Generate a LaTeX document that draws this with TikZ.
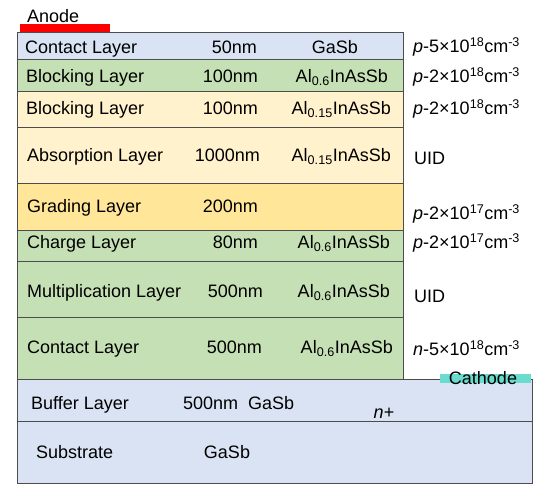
\documentclass[tikz,border=0pt]{standalone}
\usepackage{fontspec}
\setmainfont{Liberation Sans}

\definecolor{contactblue}{HTML}{DAE3F3}
\definecolor{layergreen}{HTML}{C5E0B4}
\definecolor{layercream}{HTML}{FFF2CC}
\definecolor{layergold}{HTML}{FFE699}
\definecolor{anodered}{HTML}{FF0000}
\definecolor{cathodeteal}{HTML}{6ADBCF}

\newcommand{\doping}[3]{\textit{#1}-#2×10\textsuperscript{#3}cm\textsuperscript{-3}}
\newcommand{\alloy}[1]{Al\textsubscript{#1}InAsSb}

\begin{document}
\begin{tikzpicture}[x=1pt, y=-1pt, font=\fontsize{18}{20}\selectfont,
  every node/.style={inner sep=0pt, text height=13pt, text depth=0pt},
  layer/.style={draw=black!70, line width=1pt},
  lbl/.style={anchor=west},
  thk/.style={anchor=east},
  mat/.style={anchor=east}]
\useasboundingbox (0,0) rectangle (550,498);

% Substrate and buffer
\draw[layer, fill=contactblue] (17,421) rectangle (532,483);
\draw[layer, fill=contactblue] (17,379) rectangle (532,421);
\node[lbl] (sub) at (36,452) {Substrate};
\node (subgasb) at (227,452) {GaSb};
\node[lbl] (buf) at (31,403) {Buffer Layer};
\node[lbl] (bufthk) at (183,403) {500nm\ \ GaSb};
\node (bufdop) at (384,412) {\textit{n}+};

% Mesa layers
\draw[layer, fill=layergreen] (17,317) rectangle (403,379);
\draw[layer, fill=layergreen] (17,261) rectangle (403,317);
\draw[layer, fill=layergreen] (17,230) rectangle (403,261);
\draw[layer, fill=layergold] (17,183) rectangle (403,230);
\draw[layer, fill=layercream] (17,127) rectangle (403,183);
\draw[layer, fill=layercream] (17,91) rectangle (403,127);
\draw[layer, fill=layergreen] (17,59) rectangle (403,91);
\draw[layer, fill=contactblue] (17,32) rectangle (403,59);

% Layer names
\node[lbl] (n1) at (25,47) {Contact Layer};
\node[lbl] (n2) at (26,76) {Blocking Layer};
\node[lbl] (n3) at (26,108) {Blocking Layer};
\node[lbl] (n4) at (27,155) {Absorption Layer};
\node[lbl] (n5) at (27,206) {Grading Layer};
\node[lbl] (n6) at (27,242) {Charge Layer};
\node[lbl] (n7) at (27,291) {Multiplication Layer};
\node[lbl] (n8) at (27,347) {Contact Layer};

% Thicknesses
\node[thk] (t1) at (257,47) {50nm};
\node[thk] (t2) at (258,76) {100nm};
\node[thk] (t3) at (258,108) {100nm};
\node[thk] (t4) at (260,155) {1000nm};
\node[thk] (t5) at (258,206) {200nm};
\node[thk] (t6) at (258,242) {80nm};
\node[thk] (t7) at (263,291) {500nm};
\node[thk] (t8) at (262,347) {500nm};

% Materials
\node[mat] (m1) at (358,47) {GaSb};
\node[mat] (m2) at (388,76) {\alloy{0.6}};
\node[mat] (m3) at (391,108) {\alloy{0.15}};
\node[mat] (m4) at (391,155) {\alloy{0.15}};
\node[mat] (m6) at (390,242) {\alloy{0.6}};
\node[mat] (m7) at (390,291) {\alloy{0.6}};
\node[mat] (m8) at (393,347) {\alloy{0.6}};

% Doping
\node[lbl] (d1) at (413,46) {\doping{p}{5}{18}};
\node[lbl] (d2) at (413,76) {\doping{p}{2}{18}};
\node[lbl] (d3) at (413,108) {\doping{p}{2}{18}};
\node[lbl] (d4) at (414,158) {UID};
\node[lbl] (d5) at (413,213) {\doping{p}{2}{17}};
\node[lbl] (d6) at (413,242) {\doping{p}{2}{17}};
\node[lbl] (d7) at (414,296) {UID};
\node[lbl] (d8) at (413,349) {\doping{n}{5}{18}};

% Contacts
\fill[anodered] (20,24) rectangle (110,32);
\node[lbl] (anode) at (27,16) {Anode};
\fill[cathodeteal] (440,374) rectangle (531,383);
\node (cathode) at (483,378) {Cathode};
\end{tikzpicture}
\end{document}
